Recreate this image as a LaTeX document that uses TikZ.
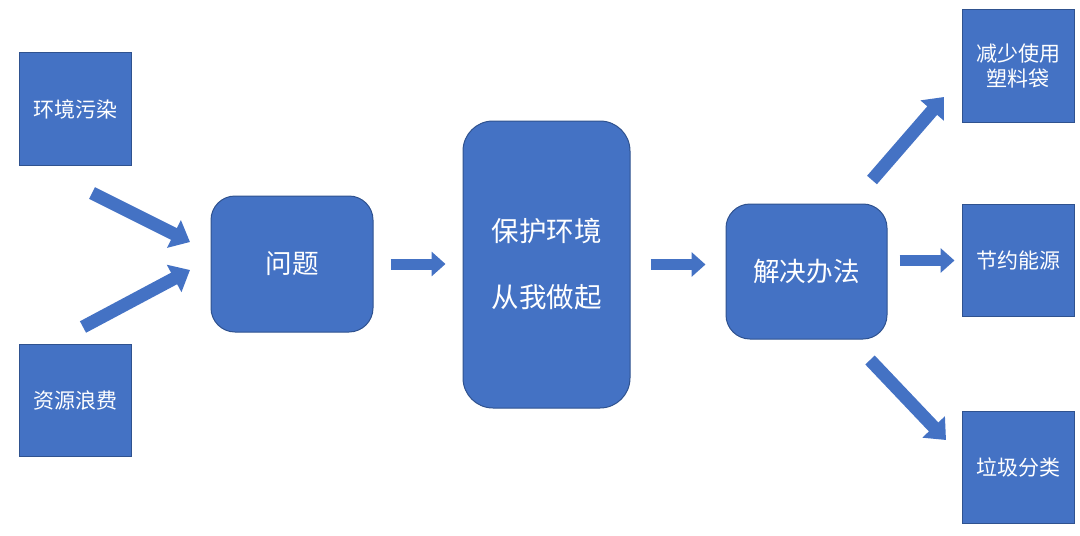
\documentclass[tikz,border=0pt]{standalone}
\usepackage{fontspec}
\setmainfont{Noto Sans CJK SC}
\usetikzlibrary{arrows.meta,calc}
\definecolor{boxblue}{HTML}{4472C4}
\definecolor{edgeblue}{HTML}{2F528F}

\begin{document}
\begin{tikzpicture}[x=0.5pt,y=-0.5pt,
	square/.style={shape=rectangle,fill=boxblue,draw=edgeblue,line width=0.5pt,text=white,
		minimum width=56pt,minimum height=56pt,inner sep=0pt,align=center,font=\fontsize{10.5}{12.5}\selectfont},
	roundbox/.style={shape=rectangle,rounded corners=12pt,fill=boxblue,draw=edgeblue,line width=0.5pt,text=white,
		inner sep=0pt,align=center,font=\fontsize{13.3}{16}\selectfont},
	flow/.style={draw=boxblue,line width=5.5pt,-{Triangle[width=12pt,length=7pt]}},
	slant/.style={draw=boxblue,line width=6.5pt,-{Triangle[width=15pt,length=9pt]}}]
	
	\useasboundingbox (0,0) rectangle (1080,535);
	
	\node[square] (huanjing) at (75, 109)    {环境污染};
	\node[square] (ziyuan)   at (75, 400.5)  {资源浪费};
	\node[roundbox,minimum width=81pt,minimum height=68pt] (wenti) at (292, 264) {问题};
	\node[roundbox,rounded corners=15pt,minimum width=83.5pt,minimum height=143.5pt,
		font=\fontsize{13.75}{33}\selectfont] (baohu) at (546.5, 264.5) {保护环境\\从我做起};
	\node[roundbox,minimum width=80.5pt,minimum height=67.5pt] (jiejue) at (806.5, 271.5) {解决办法};
	\node[square] (jianshao) at (1018, 66)    {减少使用\\塑料袋};
	\node[square] (jieyue)   at (1018, 260.5) {节约能源};
	\node[square] (laji)     at (1018, 467)   {垃圾分类};
	
	\coordinate (h1) at (92, 193);   \coordinate (h2) at (190, 242);
	\coordinate (z1) at (83, 327);   \coordinate (z2) at (190, 270);
	\coordinate (j1) at (872, 180);  \coordinate (j2) at (944, 97);
	\coordinate (l1) at (870, 360);  \coordinate (l2) at (946, 440);
	
	\path[slant] (h1) -- (h2);
	\path[slant] (z1) -- (z2);
	\path[flow] ($(wenti.east)+(17,0)$) -- ($(baohu.west |- wenti.east)+(-17,0)$);
	\path[flow] ($(baohu.east)+(20,0)$) -- ($(jiejue.west |- baohu.east)+(-20,0)$);
	\path[slant] (j1) -- (j2);
	\path[flow] ($(jiejue.east |- jieyue.west)+(12,0)$) -- ($(jieyue.west)+(-7,0)$);
	\path[slant] (l1) -- (l2);
	
\end{tikzpicture}
\end{document}
